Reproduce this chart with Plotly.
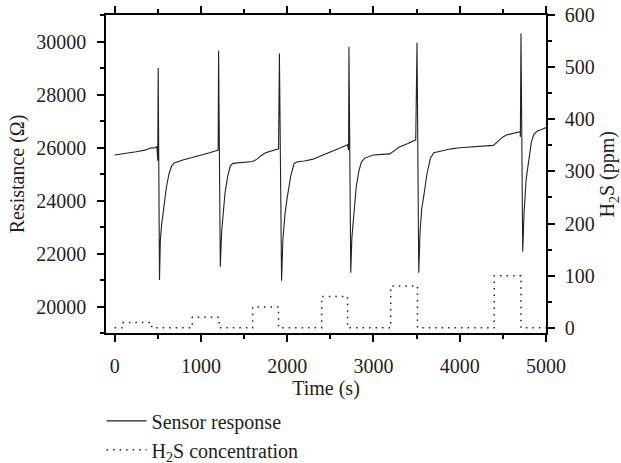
import plotly.graph_objects as go

# Sensor response (resistance, ohm)
sensor_time = [0, 50, 100, 150, 200, 250, 300, 350, 400, 430, 460, 490,
               500, 505, 520, 530, 545, 570, 600, 630, 660, 690, 750, 800, 900, 1000, 1100, 1150, 1200,
               1205, 1225, 1240, 1260, 1280, 1310, 1340, 1370, 1450, 1550, 1600, 1650, 1700, 1750, 1800, 1850, 1900,
               1910, 1935, 1950, 1975, 2000, 2040, 2080, 2120, 2200, 2300, 2400, 2500, 2600, 2700,
               2712, 2716, 2737, 2750, 2770, 2800, 2830, 2860, 2900, 3000, 3100, 3190, 3250, 3300, 3400, 3490,
               3505, 3525, 3540, 3560, 3580, 3620, 3660, 3700, 3800, 3900, 4000, 4100, 4200, 4300, 4390,
               4450, 4500, 4550, 4600, 4650, 4700,
               4703, 4710, 4730, 4745, 4770, 4800, 4830, 4860, 4900, 4950, 5000]
sensor_res = [25720, 25740, 25760, 25780, 25800, 25840, 25870, 25900, 25960, 25990, 25980, 26030,
              25500, 29000, 21000, 22500, 23100, 23800, 24500, 25000, 25300, 25420, 25500, 25540, 25620, 25700, 25800, 25850, 25900,
              29650, 21500, 22800, 23600, 24300, 24900, 25300, 25400, 25430, 25460, 25470, 25560, 25700, 25800, 25850, 25880, 25950,
              29550, 20970, 22500, 23500, 24100, 24900, 25400, 25460, 25490, 25560, 25700, 25820, 25960, 26100,
              25900, 29800, 21270, 22600, 23500, 24500, 25100, 25450, 25600, 25720, 25740, 25760, 25900, 26020, 26150, 26290,
              29950, 21270, 22800, 23700, 24100, 25000, 25600, 25800, 25880, 25950, 25990, 26020, 26050, 26060, 26080,
              26250, 26400, 26480, 26530, 26570, 26600,
              26400, 30300, 22070, 23500, 24800, 25600, 26200, 26500, 26620, 26680, 26750]

# H2S concentration steps (ppm)
conc_time = [0, 100, 430, 900, 1210, 1600, 1900, 2400, 2700, 3200, 3510, 4400, 4710, 5000]
conc_ppm = [0, 10, 0, 20, 0, 40, 0, 60, 0, 80, 0, 100, 0, 0]

FONT = "Liberation Serif"
TXT = "#231f20"

fig = go.Figure()
fig.add_trace(go.Scatter(x=sensor_time, y=sensor_res, mode="lines", name="Sensor response",
                         line=dict(color="#222222", width=1.1), yaxis="y"))
fig.add_trace(go.Scatter(x=conc_time, y=conc_ppm, mode="lines", name="H<sub>2</sub>S concentration",
                         line=dict(color="#222222", width=1.5, dash="1.5px,5px", shape="hv"), yaxis="y2"))

axis_common = dict(showline=True, linewidth=1.5, linecolor="black", ticks="outside",
                   ticklen=7, tickwidth=1.5, tickcolor="black", showgrid=False, zeroline=False,
                   tickformat="d", automargin=False,
                   tickfont=dict(family=FONT, size=20, color=TXT))

fig.update_layout(
    width=621, height=463,
    margin=dict(l=106, r=75, t=15, b=130, autoexpand=False),
    paper_bgcolor="white", plot_bgcolor="white",
    font=dict(family=FONT, size=20, color=TXT),
    xaxis=dict(range=[-100, 5000], tick0=0, dtick=1000, mirror="ticks",
               minor=dict(dtick=500, ticklen=4, tickwidth=1.5, ticks="outside", tickcolor="black"),
               title=dict(text="Time (s)", font=dict(family=FONT, size=20, color=TXT), standoff=2),
               ticklabelstandoff=7, **axis_common),
    yaxis=dict(range=[19000, 31000], tick0=20000, dtick=2000,
               minor=dict(dtick=1000, ticklen=4, tickwidth=1.5, ticks="outside", tickcolor="black"),
               title=dict(text="Resistance (Ω)", font=dict(family=FONT, size=20, color=TXT), standoff=6),
               ticklabelstandoff=7, **axis_common),
    yaxis2=dict(range=[-10, 600], tick0=0, dtick=100, overlaying="y", side="right",
                minor=dict(dtick=50, ticklen=4, tickwidth=1.5, ticks="outside", tickcolor="black"),
                ticklabelstandoff=6, **axis_common),
    legend=dict(x=-0.01, xanchor="left", y=-0.215, yanchor="top", orientation="v",
                font=dict(family=FONT, size=20, color=TXT), bgcolor="rgba(0,0,0,0)",
                itemwidth=40, tracegroupgap=0),
    showlegend=True,
    annotations=[dict(text="H<sub>2</sub>S (ppm)", xref="paper", yref="paper",
                      x=1.142, y=0.5, xanchor="center", yanchor="middle", textangle=-90,
                      showarrow=False, font=dict(family=FONT, size=20, color=TXT))],
)

fig.write_html("out.html", config={"displayModeBar": False},
               post_script="document.body.style.margin='0px';document.body.style.overflow='hidden';")
